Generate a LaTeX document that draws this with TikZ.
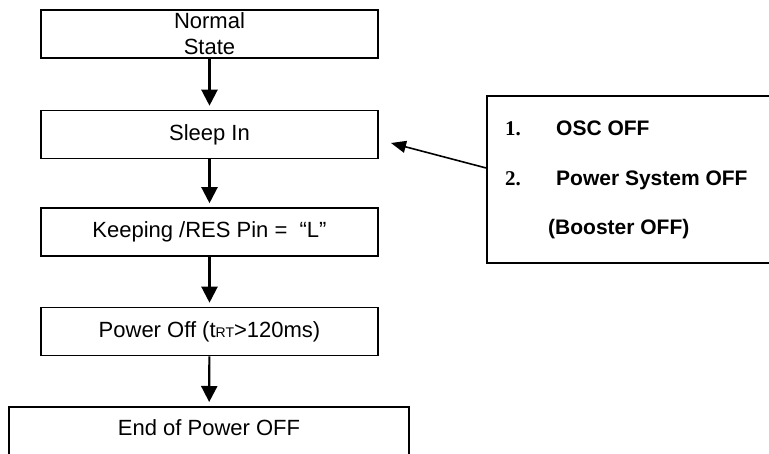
\documentclass[tikz,border=0pt]{standalone}
\usepackage{fontspec}
\setmainfont{Liberation Sans}
\newfontfamily\numfont{Liberation Serif}
\usetikzlibrary{arrows.meta}

\begin{document}
\begin{tikzpicture}[x=1pt,y=-1pt,
  box/.style={draw, line width=1.6pt, align=center, inner sep=0pt,
    minimum width=337pt, minimum height=48pt, font=\fontsize{22}{26}\selectfont},
  flow/.style={-{Triangle[length=16pt,width=16pt]}, line width=2.2pt, shorten >=4pt},
  item/.style={anchor=west, inner sep=0pt, font=\fontsize{21}{25}\selectfont\bfseries}]
\clip (0,0) rectangle (769,453);
\node[box] (normal) at (209.5,34) {Normal\\State};
\node[box] (sleep) at (209.5,134.5) {Sleep In};
\node[box] (keep) at (209.5,232) {Keeping /RES Pin =\ \ “L”};
\node[box] (poff) at (209.5,331.5) {Power Off (t{\fontsize{14}{14}\selectfont RT}>120ms)};
\node[box, anchor=north, minimum width=400pt, minimum height=0pt,
  text height=29pt, text depth=40pt] (endoff) at (209,406) {End of Power OFF};
\draw[flow] (normal) -- (sleep);
\draw[flow] (sleep) -- (keep);
\draw[flow] (keep) -- (poff);
\draw[flow] (poff) -- (endoff);
% side note
\node[draw, line width=1.9pt, anchor=north west, inner sep=0pt,
  minimum width=320pt, minimum height=167pt] (note) at (486,95) {};
\node[item] (osc) at (505,128) {\makebox[51pt][l]{\numfont 1.}OSC OFF};
\node[item] (psys) at (505,180) {\makebox[51pt][l]{\numfont 2.}Power System OFF};
\node[item] (boost) at (548,229) {(Booster OFF)};
\coordinate (tip) at (391,143);
\draw[-{Triangle[length=15pt,width=12pt]}, line width=1.6pt] ([yshift=11.5pt]note.west) -- (tip);
\end{tikzpicture}
\end{document}
